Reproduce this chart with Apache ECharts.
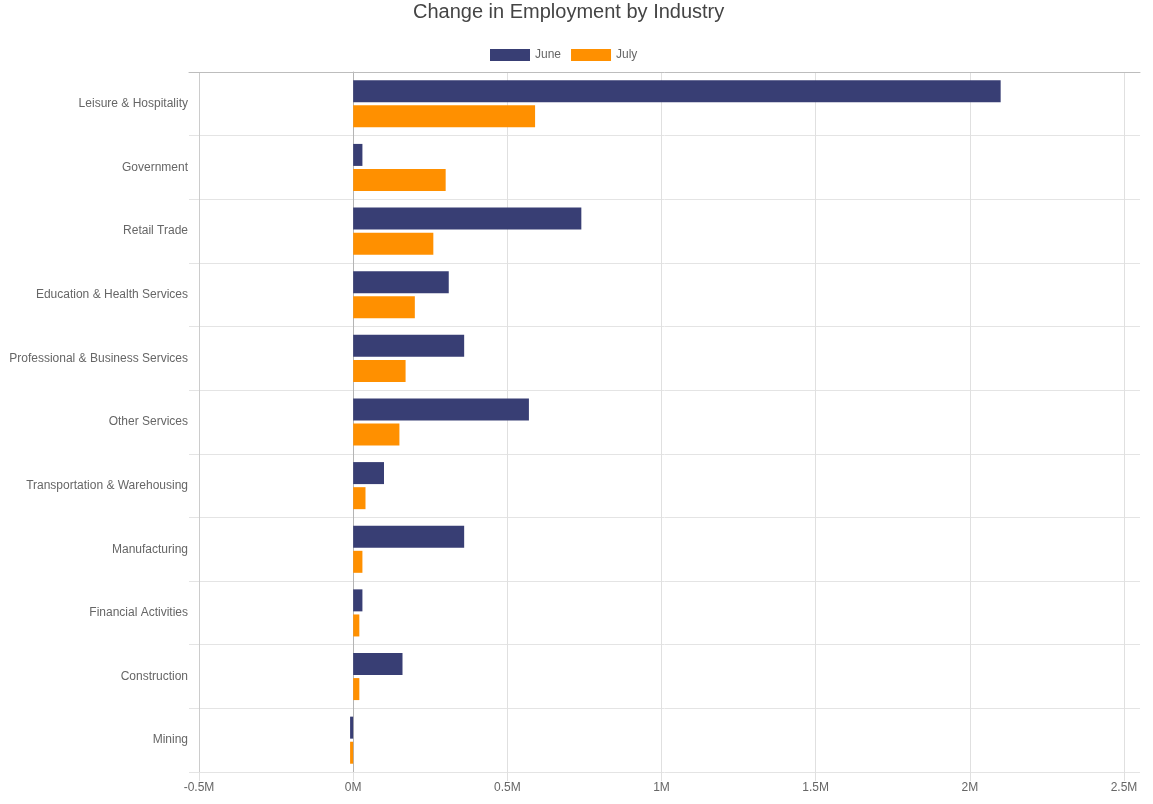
<!DOCTYPE html>
<html>
<head>
<meta charset="utf-8">
<script src="https://cdn.jsdelivr.net/npm/echarts@6/dist/echarts.min.js"></script>
<style>html,body{margin:0;padding:0;background:#fff}#c{width:1153px;height:804px}</style>
</head>
<body>
<div id="c"></div>
<script>
const categories = ['Leisure & Hospitality','Government','Retail Trade','Education & Health Services','Professional & Business Services','Other Services','Transportation & Warehousing','Manufacturing','Financial Activities','Construction','Mining'];
const juneValues = [2100000, 30000, 740000, 310000, 360000, 570000, 100000, 360000, 30000, 160000, -10000];
const julyValues = [590000, 300000, 260000, 200000, 170000, 150000, 40000, 30000, 20000, 20000, -10000];
const seriesNames = ['June', 'July'];
const xTicks = {min: -500000, max: 2500000, step: 500000};

const FONT = 'Liberation Sans, Arial, Helvetica, sans-serif';
const chart = echarts.init(document.getElementById('c'), null, {renderer: 'canvas'});
chart.setOption({
  animation: false,
  textStyle: {fontFamily: FONT},
  title: {
    text: 'Change in Employment by Industry',
    left: 413, top: 2, padding: 0,
    textStyle: {fontFamily: FONT, fontSize: 20, fontWeight: 'normal', color: '#444'}
  },
  legend: {
    data: seriesNames,
    left: 490, top: 49, padding: 0,
    itemWidth: 40, itemHeight: 12, itemGap: 10,
    icon: 'rect',
    textStyle: {fontFamily: FONT, fontSize: 12, color: '#666'}
  },
  grid: [
    {left: 189, right: 13, top: 72, bottom: 32},
    {left: 199, right: 29, top: 72, bottom: 32}
  ],
  xAxis: [
    {gridIndex: 0, type: 'value', position: 'top', min: 0, max: 1,
     axisLine: {show: true, onZero: false, lineStyle: {color: '#bdbdbd'}},
     axisTick: {show: false}, axisLabel: {show: false}, splitLine: {show: false}},
    {gridIndex: 1, type: 'value', position: 'bottom',
     min: xTicks.min, max: xTicks.max, interval: xTicks.step,
     axisLine: {show: false, onZero: false},
     axisTick: {show: true, length: 9, lineStyle: {color: '#e0e0e0'}},
     axisLabel: {margin: 10, color: '#666', fontSize: 12, fontFamily: FONT,
       formatter: v => (v / 1e6) + 'M'},
     splitLine: {show: true, lineStyle: {color: ['#cccccc', '#e0e0e0', '#e0e0e0', '#e0e0e0', '#e0e0e0', '#e0e0e0', '#e0e0e0']}}}
  ],
  yAxis: [
    {gridIndex: 0, type: 'category', inverse: true, data: categories,
     axisLine: {show: false}, axisTick: {show: false},
     axisLabel: {margin: 1, color: '#666', fontSize: 12, fontFamily: FONT, padding: [0, 0, 3, 0]},
     splitLine: {show: true, lineStyle: {color: '#e4e4e4'}}},
    {gridIndex: 1, type: 'category', inverse: true, data: categories,
     axisLine: {show: true, onZero: true, lineStyle: {color: '#b4b4b4'}},
     axisTick: {show: false}, axisLabel: {show: false}, splitLine: {show: false}}
  ],
  series: [
    {name: seriesNames[0], type: 'bar', xAxisIndex: 1, yAxisIndex: 1, data: juneValues,
     barWidth: 22, barGap: '14%', itemStyle: {color: '#383e74'}},
    {name: seriesNames[1], type: 'bar', xAxisIndex: 1, yAxisIndex: 1, data: julyValues,
     barWidth: 22, barGap: '14%', itemStyle: {color: '#ff9000'}}
  ]
});
</script>
</body>
</html>
